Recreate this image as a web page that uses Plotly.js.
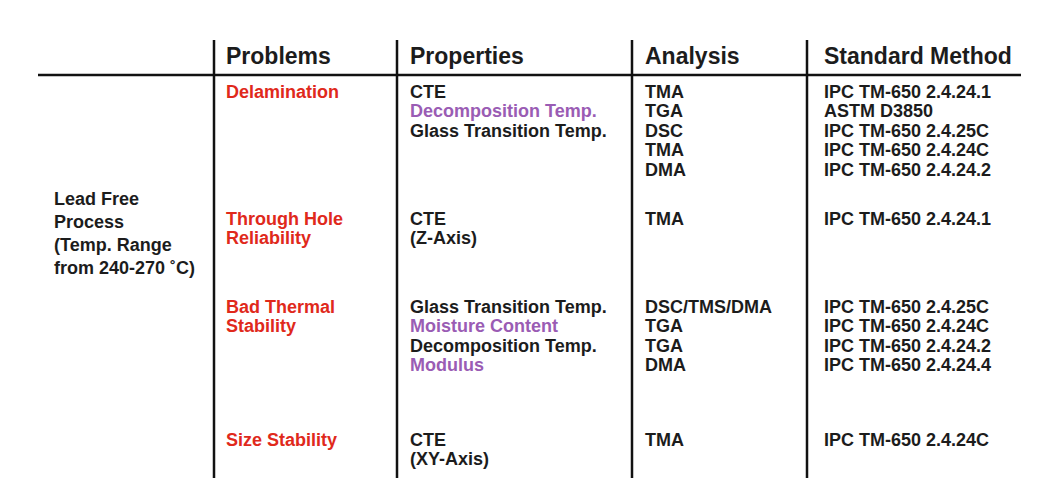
<!DOCTYPE html>
<html>
<head>
<meta charset="utf-8">
<script src="https://cdn.plot.ly/plotly-3.0.1.min.js"></script>
<style>
  html, body { margin: 0; padding: 0; background: #fff; }
  #chart { width: 1058px; height: 496px; }
</style>
</head>
<body>
<div id="chart"></div>
<script>
// table content
var headers = ['Problems', 'Properties', 'Analysis', 'Standard Method'];
var process = ['Lead Free', 'Process', '(Temp. Range', 'from 240-270 ˚C)'];

var problems = [
  ['Delamination'],
  ['Through Hole', 'Reliability'],
  ['Bad Thermal', 'Stability'],
  ['Size Stability']
];
var properties = [
  ['CTE', 'Decomposition Temp.', 'Glass Transition Temp.'],
  ['CTE', '(Z-Axis)'],
  ['Glass Transition Temp.', 'Moisture Content', 'Decomposition Temp.', 'Modulus'],
  ['CTE', '(XY-Axis)']
];
// 1 = highlighted property
var propHighlight = [
  [0, 1, 0],
  [0, 0],
  [0, 1, 0, 1],
  [0, 0]
];
var analysis = [
  ['TMA', 'TGA', 'DSC', 'TMA', 'DMA'],
  ['TMA'],
  ['DSC/TMS/DMA', 'TGA', 'TGA', 'DMA'],
  ['TMA']
];
var methods = [
  ['IPC TM-650 2.4.24.1', 'ASTM D3850', 'IPC TM-650 2.4.25C', 'IPC TM-650 2.4.24C', 'IPC TM-650 2.4.24.2'],
  ['IPC TM-650 2.4.24.1'],
  ['IPC TM-650 2.4.25C', 'IPC TM-650 2.4.24C', 'IPC TM-650 2.4.24.2', 'IPC TM-650 2.4.24.4'],
  ['IPC TM-650 2.4.24C']
];

// layout of the table (pixel space)
var colX = [226, 410, 645, 824];
var dividerX = [214, 397, 632, 807];
var headerY = 58;
var groupTop = [93, 220, 308, 441];
var lineStep = 19.5;
var processX = 54, processTop = 200, processStep = 23;

var BLACK = '#1c1c1c', RED = '#e0291b', PURPLE = '#9a5cb4';
var FONT = 'Liberation Sans, Arial, sans-serif';

function textTrace(xs, ys, texts, colors, size) {
  return {
    type: 'scatter', mode: 'text',
    x: xs, y: ys, text: texts,
    textposition: 'middle right',
    textfont: {family: FONT, size: size, color: colors, weight: 'bold'},
    hoverinfo: 'skip', showlegend: false, cliponaxis: false
  };
}

function column(groups, x, color, tones) {
  var xs = [], ys = [], ts = [], cs = [];
  groups.forEach(function (g, gi) {
    g.forEach(function (t, i) {
      xs.push(x);
      ys.push(groupTop[gi] + i * lineStep);
      ts.push(t);
      cs.push(tones && tones[gi][i] ? PURPLE : color);
    });
  });
  return textTrace(xs, ys, ts, cs, 18);
}

var data = [
  textTrace(colX, colX.map(function () { return headerY; }), headers, BLACK, 23),
  textTrace(process.map(function () { return processX; }),
            process.map(function (_, i) { return processTop + i * processStep; }),
            process, BLACK, 18),
  column(problems, colX[0], RED),
  column(properties, colX[1], BLACK, propHighlight),
  column(analysis, colX[2], BLACK),
  column(methods, colX[3], BLACK)
];

var shapes = [{
  type: 'line', xref: 'x', yref: 'y', x0: 38, x1: 1021, y0: 75, y1: 75,
  line: {color: '#111', width: 2.5}
}];
dividerX.forEach(function (x) {
  shapes.push({
    type: 'line', xref: 'x', yref: 'y', x0: x, x1: x, y0: 40, y1: 478,
    line: {color: '#111', width: 2.5}
  });
});

var layout = {
  width: 1058, height: 496,
  margin: {l: 0, r: 0, t: 0, b: 0},
  paper_bgcolor: '#fff', plot_bgcolor: '#fff',
  xaxis: {range: [0, 1058], visible: false, fixedrange: true},
  yaxis: {range: [496, 0], visible: false, fixedrange: true},
  shapes: shapes
};

Plotly.newPlot('chart', data, layout, {displayModeBar: false, staticPlot: true});
</script>
</body>
</html>
